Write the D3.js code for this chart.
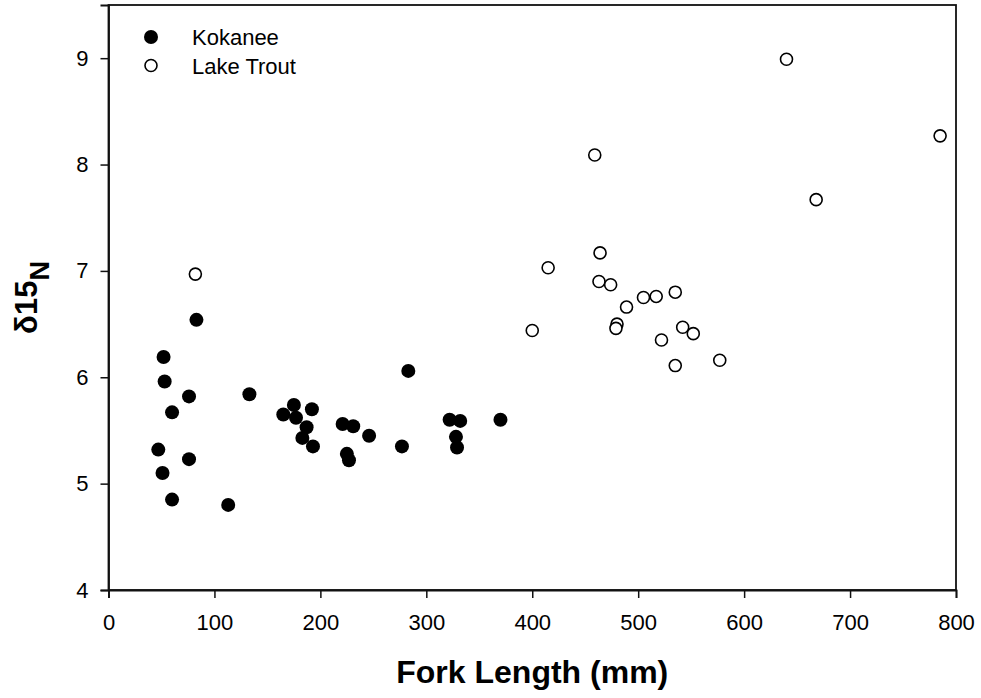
<!DOCTYPE html>
<html>
<head>
<meta charset="utf-8">
<script src="https://cdn.jsdelivr.net/npm/d3@7/dist/d3.min.js"></script>
<style>
  html, body { margin: 0; padding: 0; background: #fff; }
  svg { display: block; font-family: "Liberation Sans", Arial, sans-serif; }
</style>
</head>
<body>
<svg id="chart" width="981" height="698"></svg>
<script>
// Fork length (mm) and δ15N for each fish
const kokaneeLength = [83, 52, 53, 76, 60, 133, 175, 165, 177, 192, 187, 183, 193, 221, 231, 246, 225, 227, 277, 283, 47, 76, 51, 60, 113, 322, 332, 328, 329, 370];
const kokaneeN15    = [6.54, 6.19, 5.96, 5.82, 5.67, 5.84, 5.74, 5.65, 5.62, 5.70, 5.53, 5.43, 5.35, 5.56, 5.54, 5.45, 5.28, 5.22, 5.35, 6.06, 5.32, 5.23, 5.10, 4.85, 4.80, 5.60, 5.59, 5.44, 5.34, 5.60];

const troutLength = [459, 464, 415, 463, 474, 505, 517, 535, 489, 480, 479, 400, 542, 552, 522, 535, 82, 577, 640, 785, 668];
const troutN15    = [8.09, 7.17, 7.03, 6.90, 6.87, 6.75, 6.76, 6.80, 6.66, 6.50, 6.46, 6.44, 6.47, 6.41, 6.35, 6.11, 6.97, 6.16, 8.99, 8.27, 7.67];

const xTicks = [0, 100, 200, 300, 400, 500, 600, 700, 800];
const yTicks = [4, 5, 6, 7, 8, 9];
const seriesNames = ["Kokanee", "Lake Trout"];

const svg = d3.select("#chart");
const plot = { left: 108.5, right: 956, top: 5, bottom: 590 };
const ink = "#111";

const x = d3.scaleLinear().domain([0, 800]).range([plot.left, plot.right]);
const y = d3.scaleLinear().domain([4, 9.5]).range([plot.bottom, plot.top]);

// Frame around the plotting area
svg.append("rect")
  .attr("x", plot.left).attr("y", plot.top)
  .attr("width", plot.right - plot.left).attr("height", plot.bottom - plot.top)
  .attr("fill", "none").attr("stroke", ink).attr("stroke-width", 1.8);

const xAxis = svg.append("g")
  .attr("transform", `translate(0,${plot.bottom})`)
  .call(d3.axisBottom(x).tickValues(xTicks).tickSize(8).tickPadding(16).tickFormat(d3.format("d")));
const yAxis = svg.append("g")
  .attr("transform", `translate(${plot.left},0)`)
  .call(d3.axisLeft(y).tickValues(yTicks).tickSize(8).tickPadding(12).tickFormat(d3.format("d")));

[xAxis, yAxis].forEach(g => {
  g.select(".domain").attr("stroke", ink).attr("stroke-width", 1.8);
  g.selectAll(".tick line").attr("stroke", ink).attr("stroke-width", 1.5);
  g.selectAll(".tick text").attr("fill", "#000").style("font-size", "22px")
    .style("font-family", "'Liberation Sans', Arial, sans-serif");
});

// Kokanee: filled markers
svg.append("g").selectAll("circle")
  .data(kokaneeLength.map((v, i) => [v, kokaneeN15[i]]))
  .join("circle")
  .attr("cx", d => x(d[0])).attr("cy", d => y(d[1]))
  .attr("r", 7).attr("fill", "#000");

// Lake trout: open markers
svg.append("g").selectAll("circle")
  .data(troutLength.map((v, i) => [v, troutN15[i]]))
  .join("circle")
  .attr("cx", d => x(d[0])).attr("cy", d => y(d[1]))
  .attr("r", 6).attr("fill", "#fff").attr("stroke", "#000").attr("stroke-width", 1.6);

// Legend
const legend = svg.append("g").attr("transform", "translate(151,37)");
seriesNames.forEach((name, i) => {
  const row = legend.append("g").attr("transform", `translate(0,${i * 28.5})`);
  row.append("circle").attr("r", i === 0 ? 7 : 6)
    .attr("fill", i === 0 ? "#000" : "#fff")
    .attr("stroke", i === 0 ? "none" : "#000").attr("stroke-width", 1.6);
  row.append("text").attr("x", 41).attr("y", 8)
    .style("font-size", "22px").text(name);
});

// Axis titles
svg.append("text")
  .attr("x", (plot.left + plot.right) / 2).attr("y", 683)
  .attr("text-anchor", "middle")
  .style("font-size", "32px").style("font-weight", "bold")
  .text("Fork Length (mm)");

const yTitle = svg.append("text")
  .attr("transform", `translate(37,${(plot.top + plot.bottom) / 2}) rotate(-90)`)
  .attr("text-anchor", "middle")
  .style("font-size", "31px").style("font-weight", "bold");
yTitle.append("tspan").text("δ15");
yTitle.append("tspan").attr("dy", 12).style("font-size", "27px").text("N");
</script>
</body>
</html>
